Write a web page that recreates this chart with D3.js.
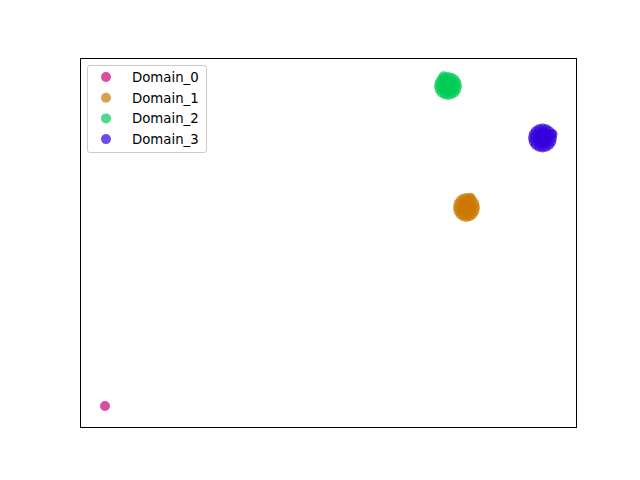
<!DOCTYPE html>
<html>
<head>
<meta charset="utf-8">
<script src="https://cdn.jsdelivr.net/npm/d3@7/dist/d3.min.js"></script>
<style>
  html, body { margin: 0; padding: 0; background: #fff; }
  svg { display: block; }
</style>
</head>
<body>
<svg id="chart" width="640" height="480"></svg>
<script>
// ---- data ----
const domainNames = ["Domain_0", "Domain_1", "Domain_2", "Domain_3"];
const domainColors = ["#cd007d", "#cc7700", "#00cc55", "#3300dd"];

const domain0Points = [[25, 21]];
const domain1Points = [
  [395, 219.5], [394.4, 223.1], [392.5, 226.2], [389.8, 228.3], [386.5, 229], [383.2, 228.3],
  [380.5, 226.2], [378.6, 223.1], [378, 219.5], [378.6, 215.9], [380.5, 212.8], [383.2, 210.7],
  [386.5, 210], [389.8, 210.7], [392.5, 212.8], [394.4, 215.9],
  [391, 219.5], [389.7, 223], [386.5, 224.5], [383.3, 223], [382, 219.5], [383.3, 216],
  [386.5, 214.5], [389.7, 216], [386.5, 219.5], [390.5, 229.3]
];
const domain2Points = [
  [377, 341], [376.3, 344.4], [374.4, 347.4], [371.4, 349.3], [368, 350], [364.6, 349.3],
  [361.6, 347.4], [359.7, 344.4], [359, 341], [359.7, 337.6], [361.6, 334.6], [364.6, 332.7],
  [368, 332], [371.4, 332.7], [374.4, 334.6], [376.3, 337.6],
  [373, 341], [371.5, 344.5], [368, 346], [364.5, 344.5], [363, 341], [364.5, 337.5],
  [368, 336], [371.5, 337.5], [368, 341], [363.5, 350.8]
];
const domain3Points = [
  [472, 289], [471.3, 292.6], [469.2, 295.7], [466.1, 297.8], [462.5, 298.5], [458.9, 297.8],
  [455.8, 295.7], [453.7, 292.6], [453, 289], [453.7, 285.4], [455.8, 282.3], [458.9, 280.2],
  [462.5, 279.5], [466.1, 280.2], [469.2, 282.3], [471.3, 285.4],
  [467.5, 289], [466, 292.5], [462.5, 294], [459, 292.5], [457.5, 289], [459, 285.5],
  [462.5, 284], [466, 285.5], [462.5, 289], [472.5, 293]
];
const allDomains = [domain0Points, domain1Points, domain2Points, domain3Points];

// ---- layout ----
const svg = d3.select("#chart");
const plot = { left: 80, top: 58, width: 496, height: 369 };
const x = d3.scaleLinear().domain([0, 496]).range([plot.left, plot.left + plot.width]);
const y = d3.scaleLinear().domain([0, 369]).range([plot.top + plot.height, plot.top]);
const markerR = 5;

// points
allDomains.forEach((pts, i) => {
  svg.append("g")
    .selectAll("circle")
    .data(pts)
    .join("circle")
    .attr("cx", d => x(d[0]))
    .attr("cy", d => y(d[1]))
    .attr("r", markerR)
    .attr("fill", domainColors[i])
    .attr("fill-opacity", 0.7);
});

// axes frame
svg.append("rect")
  .attr("x", plot.left + 0.5)
  .attr("y", plot.top + 0.5)
  .attr("width", plot.width)
  .attr("height", plot.height)
  .attr("fill", "none")
  .attr("stroke", "#000")
  .attr("stroke-width", 1);

// legend
const lg = svg.append("g");
lg.append("rect")
  .attr("x", 87.5).attr("y", 65.5)
  .attr("width", 119).attr("height", 87)
  .attr("rx", 2.5).attr("ry", 2.5)
  .attr("fill", "#fff").attr("fill-opacity", 0.8)
  .attr("stroke", "#cccccc").attr("stroke-width", 1);

domainNames.forEach((name, i) => {
  const cy = 77 + i * 20.7;
  lg.append("circle")
    .attr("cx", 106).attr("cy", cy).attr("r", markerR)
    .attr("fill", domainColors[i]).attr("fill-opacity", 0.7);
  lg.append("text")
    .attr("x", 132).attr("y", cy + 4.8)
    .attr("font-family", "DejaVu Sans")
    .attr("font-size", "13.3px")
    .attr("fill", "#000")
    .text(name);
});
</script>
</body>
</html>
